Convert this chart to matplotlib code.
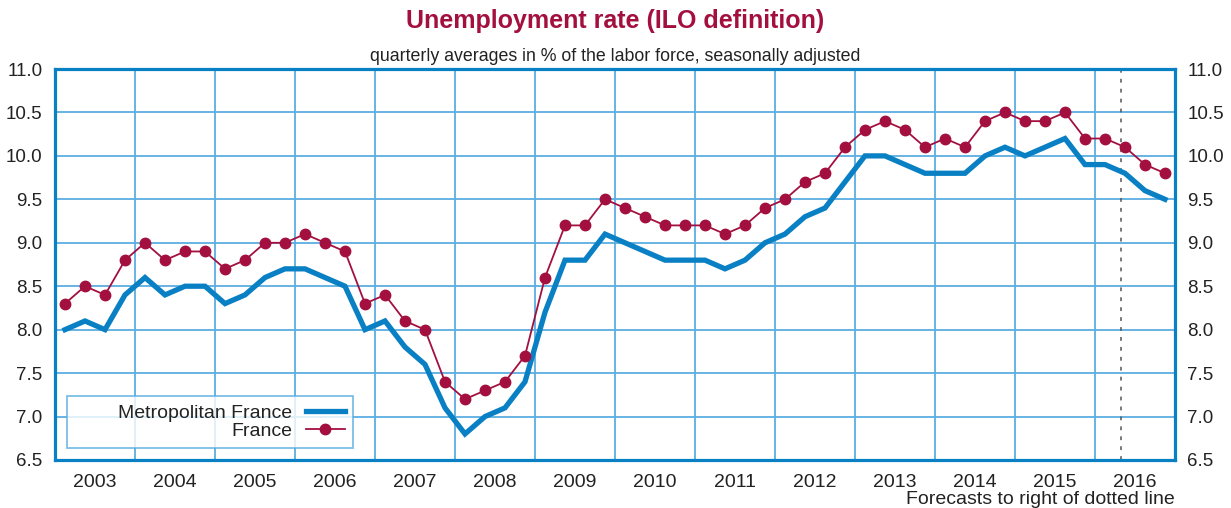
import numpy as np
import matplotlib.pyplot as plt
from matplotlib.ticker import FixedLocator, NullFormatter

plt.rcParams['font.family'] = ['Liberation Sans', 'DejaVu Sans']

# quarterly data, 2003 Q1 .. 2016 Q4
years = list(range(2003, 2017))
metro = [8.0, 8.1, 8.0, 8.4,  8.6, 8.4, 8.5, 8.5,  8.3, 8.4, 8.6, 8.7,
         8.7, 8.6, 8.5, 8.0,  8.1, 7.8, 7.6, 7.1,  6.8, 7.0, 7.1, 7.4,
         8.2, 8.8, 8.8, 9.1,  9.0, 8.9, 8.8, 8.8,  8.8, 8.7, 8.8, 9.0,
         9.1, 9.3, 9.4, 9.7,  10.0, 10.0, 9.9, 9.8,  9.8, 9.8, 10.0, 10.1,
         10.0, 10.1, 10.2, 9.9,  9.9, 9.8, 9.6, 9.5]
france = [8.3, 8.5, 8.4, 8.8,  9.0, 8.8, 8.9, 8.9,  8.7, 8.8, 9.0, 9.0,
          9.1, 9.0, 8.9, 8.3,  8.4, 8.1, 8.0, 7.4,  7.2, 7.3, 7.4, 7.7,
          8.6, 9.2, 9.2, 9.5,  9.4, 9.3, 9.2, 9.2,  9.2, 9.1, 9.2, 9.4,
          9.5, 9.7, 9.8, 10.1,  10.3, 10.4, 10.3, 10.1,  10.2, 10.1, 10.4, 10.5,
          10.4, 10.4, 10.5, 10.2,  10.2, 10.1, 9.9, 9.8]
yticks = [6.5, 7.0, 7.5, 8.0, 8.5, 9.0, 9.5, 10.0, 10.5, 11.0]
forecast_start = 2016.33

blue = '#0a80c4'
grid_blue = '#5aaee0'
red = '#a3103f'

x = years[0] + (np.arange(len(metro)) + 0.5) / 4

fig = plt.figure(figsize=(12.31, 5.08), dpi=100)
ax = fig.add_axes([55/1231, 48/508, 1120/1231, 391/508])

# leading spaces widen the legend box like the original (labels are right-aligned)
ax.plot(x, metro, color=blue, lw=3.8, solid_joinstyle='miter',
        label='        Metropolitan France', zorder=3)
ax.plot(x, france, color=red, lw=1.3, marker='o', ms=7.5, label='France', zorder=4)
ax.plot([forecast_start, forecast_start], [6.5, 11.05], color='#555555', lw=1.1,
        ls=(0, (2.5, 4)), zorder=2, clip_on=False)

ax.set_xlim(years[0], years[-1] + 1)
ax.set_ylim(yticks[0], yticks[-1])
ax.set_yticks(yticks)
ax.set_yticklabels([f'{v:.1f}' for v in yticks])
ax.xaxis.set_major_locator(FixedLocator(years + [years[-1] + 1]))
ax.xaxis.set_major_formatter(NullFormatter())
ax.xaxis.set_minor_locator(FixedLocator([y + 0.5 for y in years]))
ax.set_xticklabels([str(y) for y in years], minor=True)
ax.tick_params(axis='both', which='both', length=0, labelsize=13.5, colors='#222222')
ax.tick_params(axis='x', which='minor', labelsize=14, pad=10)
ax.tick_params(axis='y', pad=9, labelright=True)
ax.grid(True, which='major', color=grid_blue, lw=1.3, zorder=1)
for s in ax.spines.values():
    s.set_color(blue)
    s.set_linewidth(2.3)

leg = ax.legend(loc='lower left', bbox_to_anchor=(12/1120, 12/391), markerfirst=False,
                fontsize=14, frameon=True, fancybox=False, handlelength=2.05,
                handletextpad=0.7, borderpad=0.4, labelspacing=0.05, borderaxespad=0)
leg.get_frame().set_edgecolor(grid_blue)
leg.get_frame().set_linewidth(1.3)
for t in leg.get_texts():
    t.set_color('#222222')

fig.text(0.5, 0.958, 'Unemployment rate (ILO definition)', ha='center', va='center',
         fontsize=18, fontweight='bold', color=red)
fig.text(0.4995, 0.888, 'quarterly averages in % of the labor force, seasonally adjusted',
         ha='center', va='center', fontsize=12.8, color='#222222')
fig.text(1175/1231, 8/508, 'Forecasts to right of dotted line', ha='right', va='center',
         fontsize=14, color='#222222')

fig.savefig('out.png', dpi=100)
